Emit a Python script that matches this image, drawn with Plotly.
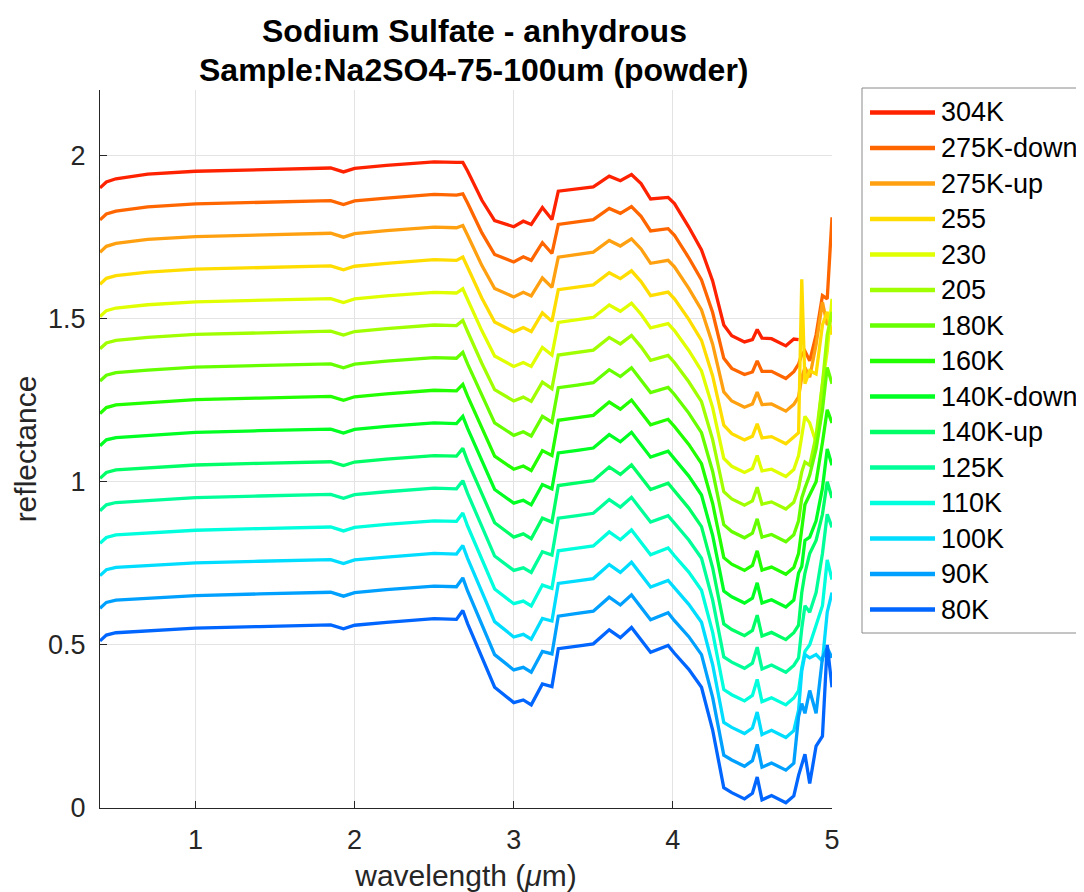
import plotly.graph_objects as go

# ---------------- data ----------------
wavelength = [0.40, 0.44, 0.50, 0.70, 1.00, 1.40, 1.85, 1.93, 2.00, 2.20, 2.50, 2.64, 2.68, 2.71,
              2.80, 2.88, 3.00, 3.06, 3.11, 3.18, 3.24, 3.28, 3.40, 3.50, 3.60, 3.67, 3.74, 3.80,
              3.86, 3.97, 4.01, 4.10, 4.18, 4.25, 4.32, 4.37, 4.45, 4.50, 4.53, 4.56, 4.62, 4.71,
              4.76, 4.79, 4.81, 4.83, 4.86, 4.90, 4.94, 4.97, 5.00]

series_names = ["304K", "275K-down", "275K-up", "255", "230", "205", "180K", "160K",
                "140K-down", "140K-up", "125K", "110K", "100K", "90K", "80K"]

series_colors = ["#FF2200", "#FF6600", "#FFA010", "#FFDD00", "#E0FF00", "#A0FF00", "#66FF00",
                 "#22FF00", "#00FF22", "#00FF66", "#00FF99", "#00FFDD", "#00DDFF", "#00A0FF",
                 "#0066FF"]

r304 = [1.900, 1.918, 1.928, 1.942, 1.951, 1.956, 1.961, 1.949, 1.960, 1.969, 1.980, 1.978, 1.978, 1.952,
        1.862, 1.800, 1.781, 1.798, 1.788, 1.840, 1.803, 1.890, 1.896, 1.903, 1.936, 1.922, 1.941, 1.913,
        1.866, 1.871, 1.852, 1.780, 1.710, 1.615, 1.480, 1.447, 1.428, 1.435, 1.466, 1.440, 1.438, 1.416,
        1.437, 1.435, None, None, None, None, None, None, None]
r275_down = [1.802, 1.820, 1.829, 1.842, 1.851, 1.856, 1.861, 1.849, 1.860, 1.869, 1.880, 1.878, 1.882, 1.854,
             1.762, 1.696, 1.673, 1.689, 1.678, 1.732, 1.699, 1.788, 1.796, 1.803, 1.837, 1.822, 1.843, 1.813,
             1.768, 1.775, 1.755, 1.686, 1.618, 1.518, 1.378, 1.347, 1.328, 1.336, 1.370, 1.338, 1.338, 1.316,
             1.337, 1.360, 1.390, 1.400, 1.370, 1.450, 1.570, 1.560, 1.810]
r275_up = [1.703, 1.721, 1.730, 1.742, 1.751, 1.756, 1.761, 1.749, 1.760, 1.769, 1.780, 1.778, 1.785, 1.755,
           1.662, 1.592, 1.566, 1.580, 1.569, 1.624, 1.595, 1.688, 1.696, 1.703, 1.739, 1.722, 1.744, 1.713,
           1.669, 1.678, 1.658, 1.592, 1.526, 1.421, 1.275, 1.247, 1.228, 1.238, 1.274, 1.236, 1.238, 1.216,
           1.237, 1.260, 1.320, 1.350, 1.320, 1.420, 1.550, 1.480, 1.500]
r255 = [1.605, 1.623, 1.631, 1.642, 1.651, 1.656, 1.661, 1.649, 1.660, 1.669, 1.680, 1.678, 1.688, 1.657,
        1.562, 1.489, 1.459, 1.472, 1.460, 1.517, 1.491, 1.588, 1.596, 1.603, 1.640, 1.622, 1.646, 1.613,
        1.570, 1.581, 1.560, 1.497, 1.433, 1.324, 1.173, 1.147, 1.128, 1.139, 1.177, 1.134, 1.138, 1.116,
        1.137, 1.150, 1.620, 1.300, 1.340, 1.330, 1.480, 1.520, 1.450]
r230 = [1.506, 1.524, 1.532, 1.542, 1.551, 1.556, 1.561, 1.549, 1.560, 1.569, 1.580, 1.578, 1.591, 1.558,
        1.462, 1.385, 1.353, 1.365, 1.353, 1.411, 1.388, 1.488, 1.496, 1.503, 1.541, 1.522, 1.547, 1.513,
        1.471, 1.484, 1.463, 1.402, 1.339, 1.227, 1.071, 1.047, 1.028, 1.040, 1.080, 1.033, 1.038, 1.016,
        1.037, 1.080, 1.140, 1.200, 1.180, 1.120, 1.300, 1.400, 1.560]
r205 = [1.407, 1.425, 1.433, 1.442, 1.451, 1.456, 1.461, 1.449, 1.460, 1.469, 1.480, 1.478, 1.494, 1.460,
        1.362, 1.282, 1.247, 1.259, 1.246, 1.305, 1.285, 1.388, 1.396, 1.403, 1.442, 1.422, 1.448, 1.413,
        1.372, 1.387, 1.365, 1.306, 1.245, 1.129, 0.969, 0.947, 0.928, 0.941, 0.983, 0.931, 0.938, 0.916,
        0.937, 0.980, 1.030, 1.060, 1.050, 1.140, 1.300, 1.450, 1.520]
r180 = [1.308, 1.326, 1.334, 1.342, 1.351, 1.356, 1.361, 1.349, 1.360, 1.369, 1.380, 1.378, 1.396, 1.361,
        1.262, 1.180, 1.142, 1.153, 1.140, 1.200, 1.182, 1.288, 1.296, 1.303, 1.343, 1.322, 1.349, 1.313,
        1.273, 1.289, 1.267, 1.210, 1.150, 1.031, 0.868, 0.847, 0.828, 0.842, 0.886, 0.830, 0.838, 0.816,
        0.837, 0.880, 0.950, 0.980, 1.020, 1.100, 1.220, 1.350, 1.300]
r160 = [1.209, 1.227, 1.235, 1.242, 1.251, 1.256, 1.261, 1.249, 1.260, 1.269, 1.280, 1.278, 1.298, 1.262,
        1.162, 1.078, 1.038, 1.048, 1.034, 1.095, 1.080, 1.188, 1.196, 1.203, 1.244, 1.222, 1.250, 1.213,
        1.174, 1.191, 1.169, 1.114, 1.055, 0.933, 0.767, 0.747, 0.728, 0.743, 0.788, 0.729, 0.738, 0.716,
        0.737, 0.780, 0.850, 0.930, 0.960, 1.000, 1.120, 1.220, 1.180]
r140_down = [1.110, 1.128, 1.135, 1.142, 1.151, 1.156, 1.161, 1.149, 1.160, 1.169, 1.180, 1.178, 1.200, 1.163,
             1.062, 0.976, 0.934, 0.943, 0.929, 0.991, 0.978, 1.088, 1.096, 1.103, 1.144, 1.122, 1.151, 1.113,
             1.075, 1.093, 1.070, 1.017, 0.959, 0.835, 0.665, 0.647, 0.628, 0.643, 0.690, 0.628, 0.638, 0.616,
             0.637, 0.720, 0.740, 0.820, 0.830, 0.880, 0.980, 1.100, 1.050]
r140_up = [1.010, 1.028, 1.036, 1.042, 1.051, 1.056, 1.061, 1.049, 1.060, 1.069, 1.080, 1.078, 1.102, 1.063,
           0.962, 0.874, 0.830, 0.840, 0.825, 0.888, 0.876, 0.988, 0.996, 1.003, 1.045, 1.022, 1.051, 1.013,
           0.976, 0.995, 0.971, 0.919, 0.862, 0.736, 0.564, 0.547, 0.528, 0.544, 0.591, 0.527, 0.538, 0.516,
           0.537, 0.560, 0.660, 0.720, 0.780, 0.820, 0.900, 1.000, 0.950]
r125 = [0.911, 0.929, 0.936, 0.942, 0.951, 0.956, 0.961, 0.949, 0.960, 0.969, 0.980, 0.978, 1.003, 0.964,
        0.862, 0.772, 0.728, 0.736, 0.722, 0.785, 0.775, 0.888, 0.896, 0.903, 0.945, 0.922, 0.952, 0.913,
        0.876, 0.896, 0.872, 0.821, 0.765, 0.637, 0.463, 0.447, 0.428, 0.444, 0.493, 0.426, 0.438, 0.416,
        0.437, 0.460, 0.550, 0.620, 0.600, 0.660, 0.780, 0.900, 0.860]
r110 = [0.811, 0.829, 0.837, 0.842, 0.851, 0.856, 0.861, 0.849, 0.860, 0.869, 0.880, 0.878, 0.904, 0.864,
        0.762, 0.671, 0.626, 0.634, 0.619, 0.683, 0.673, 0.788, 0.796, 0.803, 0.846, 0.822, 0.852, 0.813,
        0.776, 0.797, 0.773, 0.723, 0.667, 0.538, 0.363, 0.347, 0.328, 0.345, 0.394, 0.326, 0.338, 0.316,
        0.337, 0.360, 0.430, 0.480, 0.500, 0.560, 0.620, 0.760, 0.700]
r100 = [0.712, 0.730, 0.737, 0.742, 0.751, 0.756, 0.761, 0.749, 0.760, 0.769, 0.780, 0.778, 0.804, 0.765,
        0.662, 0.571, 0.524, 0.532, 0.517, 0.581, 0.573, 0.688, 0.696, 0.703, 0.746, 0.722, 0.753, 0.713,
        0.677, 0.697, 0.674, 0.624, 0.569, 0.439, 0.262, 0.247, 0.228, 0.245, 0.294, 0.225, 0.238, 0.216,
        0.237, 0.300, 0.420, 0.470, 0.460, 0.470, 0.450, 0.600, 0.660]
r90 = [0.612, 0.630, 0.637, 0.642, 0.651, 0.656, 0.661, 0.649, 0.660, 0.669, 0.680, 0.678, 0.705, 0.665,
       0.562, 0.470, 0.423, 0.431, 0.416, 0.480, 0.472, 0.588, 0.596, 0.603, 0.646, 0.622, 0.653, 0.613,
       0.577, 0.598, 0.574, 0.525, 0.470, 0.339, 0.162, 0.147, 0.128, 0.145, 0.195, 0.125, 0.138, 0.116,
       0.137, 0.280, 0.320, 0.290, 0.360, 0.290, 0.460, 0.490, 0.460]
r80 = [0.512, 0.530, 0.537, 0.542, 0.551, 0.556, 0.561, 0.549, 0.560, 0.569, 0.580, 0.578, 0.605, 0.565,
       0.462, 0.370, 0.323, 0.331, 0.316, 0.380, 0.372, 0.488, 0.496, 0.503, 0.546, 0.522, 0.553, 0.513,
       0.477, 0.498, 0.474, 0.425, 0.370, 0.239, 0.062, 0.047, 0.028, 0.045, 0.095, 0.025, 0.038, 0.016,
       0.037, 0.100, 0.135, 0.165, 0.075, 0.190, 0.220, 0.500, 0.370]

series_values = [r304, r275_down, r275_up, r255, r230, r205, r180, r160,
                 r140_down, r140_up, r125, r110, r100, r90, r80]

x_ticks = [1, 2, 3, 4, 5]
y_ticks = [0, 0.5, 1, 1.5, 2]
y_tick_text = ["0", "0.5", "1", "1.5", "2"]

title_lines = ["Sodium Sulfate - anhydrous", "Sample:Na2SO4-75-100um (powder)"]

# ---------------- layout constants ----------------
# The page has an 8 px body margin, so the figure is drawn 8 px smaller and all
# positions below are given in page pixels and converted.
PAGE_OFF = 8
W, H = 1084 - PAGE_OFF, 892 - PAGE_OFF
PLOT_L, PLOT_R, PLOT_T, PLOT_B = 100, 832, 90, 808          # page pixels
L = PLOT_L - PAGE_OFF
T = PLOT_T - PAGE_OFF
R = (W + PAGE_OFF) - PLOT_R
B = (H + PAGE_OFF) - PLOT_B
PW, PH = PLOT_R - PLOT_L, PLOT_B - PLOT_T
FONT = "Liberation Sans, Arial, Helvetica, sans-serif"
AX = "#262626"


def paper_x(px):
    return (px - PLOT_L) / PW


def paper_y(py):
    return (PLOT_B - py) / PH


fig = go.Figure()
for name, color, vals in zip(series_names, series_colors, series_values):
    fig.add_trace(go.Scatter(x=wavelength, y=vals, mode="lines", name=name,
                             line=dict(color=color, width=3.3), showlegend=False))

axis_common = dict(showline=True, linecolor=AX, linewidth=1, mirror=False,
                   ticks="inside", ticklen=7, tickwidth=1, tickcolor=AX,
                   showgrid=True, gridcolor="#e3e3e3", gridwidth=1, zeroline=False,
                   ticklabelstandoff=8, automargin=False,
                   tickfont=dict(family=FONT, size=27, color=AX))

fig.update_layout(
    width=W, height=H,
    margin=dict(l=L, r=R, t=T, b=B, autoexpand=False),
    plot_bgcolor="white", paper_bgcolor="white",
    font=dict(family=FONT, color=AX),
    xaxis=dict(range=[0.4, 5.0], tickvals=x_ticks,
               title=dict(text="wavelength (<i>μ</i>m)", font=dict(family=FONT, size=30, color=AX),
                          standoff=10),
               **axis_common),
    yaxis=dict(range=[0, 2.2], tickvals=y_ticks, ticktext=y_tick_text,
               title=dict(text="reflectance", font=dict(family=FONT, size=30, color=AX),
                          standoff=2),
               **axis_common),
    showlegend=False,
)

annotations = []
# ---------------- title (two bold lines centred over the axes) ----------------
for line, cy in zip(title_lines, [31, 70]):
    annotations.append(dict(xref="paper", yref="paper", x=paper_x(474), y=paper_y(cy),
                            text="<b>" + line + "</b>", showarrow=False,
                            xanchor="center", yanchor="middle",
                            font=dict(family=FONT, size=32, color="#000000")))

# ---------------- legend (drawn as a boxed list, like the reference) ----------------
box_x0, box_x1, box_y0, box_y1 = 862, 1082, 88, 633
shapes = [dict(type="rect", xref="paper", yref="paper",
               x0=paper_x(box_x0), x1=paper_x(box_x1),
               y0=paper_y(box_y1), y1=paper_y(box_y0),
               line=dict(color="#8a8a8a", width=1), fillcolor="white", layer="above")]
row0, row_step = 112.5, 35.5
for k, (name, color) in enumerate(zip(series_names, series_colors)):
    yy = paper_y(row0 + k * row_step)
    shapes.append(dict(type="line", xref="paper", yref="paper",
                       x0=paper_x(870), x1=paper_x(935), y0=yy, y1=yy,
                       line=dict(color=color, width=4.5), layer="above"))
    annotations.append(dict(xref="paper", yref="paper", x=paper_x(939), y=yy,
                            text=name, showarrow=False, xanchor="left", yanchor="middle",
                            font=dict(family=FONT, size=27, color="#000000")))
fig.update_layout(shapes=shapes, annotations=annotations)

fig.write_html("out.html")
